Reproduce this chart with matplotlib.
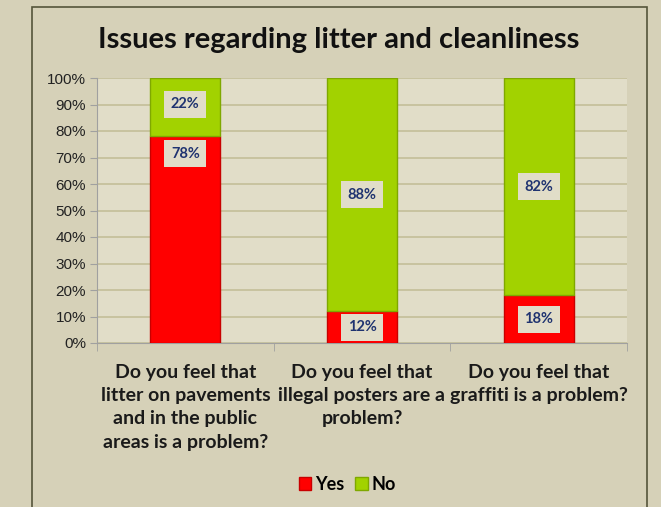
import matplotlib
matplotlib.use("Agg")
import matplotlib.pyplot as plt
from matplotlib.patches import Rectangle
from matplotlib.ticker import FixedLocator

# survey questions and answer shares (%)
questions = [
    "Do you feel that\nlitter on pavements\nand in the public\nareas is a problem?",
    "Do you feel that\nillegal posters are a\nproblem?",
    "Do you feel that\ngraffiti is a problem?",
]
yes_pct = [78, 12, 18]
no_pct = [22, 88, 82]
yes_label_pos = [71.5, 6, 9]

RED = "#ff0000"
GREEN = "#a2d200"
LABEL_TXT = "#1f3370"
BG = "#d6d1b8"
PLOT_BG = "#e1ddc8"
GRID = "#c4be98"

plt.rcParams["font.family"] = ["Lato", "DejaVu Sans"]

fig = plt.figure(figsize=(6.61, 5.07), dpi=100, facecolor=BG)

# outer chart frame
fig.patches.append(Rectangle((32 / 661, -0.05), (647 - 32) / 661, 1 - 7 / 507 + 0.05,
                             transform=fig.transFigure, facecolor="none",
                             edgecolor="#55553a", linewidth=1.2))

ax = fig.add_axes([97 / 661, 1 - 343 / 507, 530 / 661, 265 / 507])
ax.set_facecolor(PLOT_BG)

x = range(len(questions))
w = 0.395
ax.bar(x, yes_pct, width=w, color=RED, edgecolor="#c80000", linewidth=1.0, zorder=3)
ax.bar(x, no_pct, width=w, bottom=yes_pct, color=GREEN, edgecolor="#7fa800",
       linewidth=1.0, zorder=3)

box = dict(boxstyle="square,pad=0.45", facecolor=PLOT_BG, edgecolor="none")
for i in x:
    ax.text(i, yes_label_pos[i], f"{yes_pct[i]}%", ha="center", va="center",
            fontsize=10.5, fontweight="bold", color=LABEL_TXT, bbox=box, zorder=4)
    ax.text(i, yes_pct[i] + no_pct[i] / 2 + (1 if i == 0 else 0), f"{no_pct[i]}%",
            ha="center", va="center", fontsize=10.5, fontweight="bold",
            color=LABEL_TXT, bbox=box, zorder=4)

ax.set_xlim(-0.5, 2.5)
ax.set_ylim(0, 100)
ax.set_yticks(range(0, 101, 10))
ax.set_yticklabels([f"{v}%" for v in range(0, 101, 10)],
                   fontfamily="Liberation Sans", fontsize=11, color="#222222")
ax.yaxis.grid(True, color=GRID, linewidth=1.2, zorder=0)
ax.set_axisbelow(True)

ax.set_xticks(list(x))
ax.set_xticklabels(questions, fontsize=14, fontweight="bold", color="#1a1a1a",
                   linespacing=1.45)
ax.xaxis.set_minor_locator(FixedLocator([-0.5, 0.5, 1.5, 2.5]))
ax.tick_params(axis="x", which="major", length=0, pad=15)
ax.tick_params(axis="x", which="minor", length=6, color="#a0a0a0")
ax.tick_params(axis="y", length=5, color="#a0a0a0", pad=3)

for side in ("top", "right"):
    ax.spines[side].set_visible(False)
ax.spines["left"].set_color("#a0a0a0")
ax.spines["bottom"].set_color("#a0a0a0")

fig.text(0.512, 1 - 40 / 507, "Issues regarding litter and cleanliness",
         ha="center", va="center", fontsize=21, fontweight="bold", color="#111111")

handles = [Rectangle((0, 0), 1, 1, facecolor=RED, edgecolor="#c80000"),
           Rectangle((0, 0), 1, 1, facecolor=GREEN, edgecolor="#7fa800")]
fig.legend(handles, ["Yes", "No"], loc="center", bbox_to_anchor=(0.525, 1 - 484 / 507),
           ncol=2, frameon=False, handlelength=0.7, handleheight=0.7,
           handletextpad=0.2, columnspacing=0.6,
           prop={"family": "Lato", "weight": "bold", "size": 13})

fig.savefig("out.png", dpi=100, facecolor=BG)
